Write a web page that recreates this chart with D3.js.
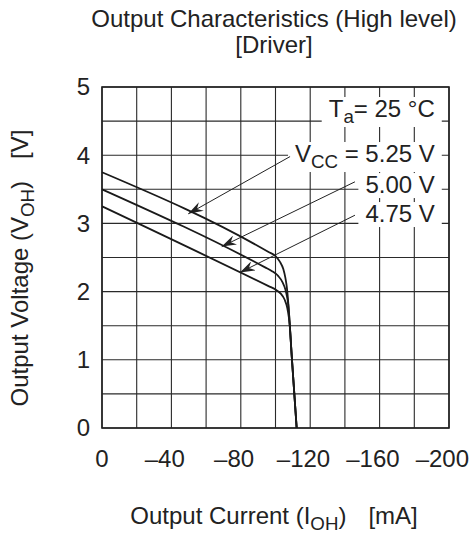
<!DOCTYPE html>
<html>
<head>
<meta charset="utf-8">
<script src="https://cdn.jsdelivr.net/npm/d3@7"></script>
<style>
  html, body { margin: 0; padding: 0; background: #fff; }
  svg { display: block; font-family: "Liberation Sans", Arial, sans-serif; }
</style>
</head>
<body>
<div id="chart"></div>
<script>
// Output current in mA (negative = sourcing), output voltage in V
const xTicks = [0, -20, -40, -60, -80, -100, -120, -140, -160, -180, -200];
const xLabels = [0, -40, -80, -120, -160, -200];
const yTicks = [0, 0.5, 1, 1.5, 2, 2.5, 3, 3.5, 4, 4.5, 5];
const yLabels = [0, 1, 2, 3, 4, 5];

const vcc525 = [[0, 3.75], [-96, 2.58], [-100, 2.52], [-102.5, 2.44], [-104.5, 2.33], [-105.7, 2.2], [-106.4, 2.09], [-106.8, 2.0], [-109.5, 1.0], [-112.2, 0]];
const vcc500 = [[0, 3.5], [-94, 2.355], [-98, 2.3], [-101.5, 2.23], [-104, 2.14], [-105.7, 2.03], [-106.6, 1.93], [-107.3, 1.82], [-109.5, 1.0], [-112.2, 0]];
const vcc475 = [[0, 3.25], [-96, 2.08], [-100, 2.03], [-103, 1.97], [-105.3, 1.88], [-106.8, 1.76], [-107.7, 1.62], [-108.2, 1.5], [-109.5, 1.0], [-112.2, 0]];

// leader arrows: [tailX, tailY, tipX, tipY] in data units
const leaders = [
  [-108.4, 3.98, -49.7, 3.14],
  [-145.8, 3.61, -69.0, 2.66],
  [-145.8, 3.12, -79.5, 2.28],
];

const W = 472, H = 536;
const margin = { top: 87, right: 23, bottom: 108, left: 102 };
const FS = 24;

const svg = d3.select("#chart").append("svg")
  .attr("width", W)
  .attr("height", H);

const x = d3.scaleLinear().domain([0, -200]).range([margin.left, W - margin.right]);
const y = d3.scaleLinear().domain([0, 5]).range([H - margin.bottom, margin.top]);

// grid
const grid = svg.append("g").attr("stroke", "#2a2a2a").attr("stroke-width", 1.1);
grid.selectAll("line.v").data(xTicks).join("line")
  .attr("x1", d => x(d)).attr("x2", d => x(d))
  .attr("y1", y(0)).attr("y2", y(5));
grid.selectAll("line.h").data(yTicks).join("line")
  .attr("x1", x(0)).attr("x2", x(-200))
  .attr("y1", d => y(d)).attr("y2", d => y(d));

svg.append("rect")
  .attr("x", x(0)).attr("y", y(5))
  .attr("width", x(-200) - x(0)).attr("height", y(0) - y(5))
  .attr("fill", "none").attr("stroke", "#222").attr("stroke-width", 1.6);

// annotation labels with white backing
const ann = svg.append("g").attr("font-size", FS).attr("fill", "#222").attr("text-anchor", "end");
function label(parts, xv, yv) {
  const t = ann.append("text").attr("x", x(xv)).attr("y", y(yv));
  parts.forEach(p => {
    const s = t.append("tspan").text(p.t);
    if (p.sub) s.attr("font-size", FS * 0.78).attr("dy", 6);
    if (p.up) s.attr("dy", -6);
  });
  return t;
}
const labs = [
  label([{ t: "T" }, { t: "a", sub: true }, { t: "= 25 °C", up: true }], -191.8, 4.56),
  label([{ t: "V" }, { t: "CC", sub: true }, { t: " = 5.25 V", up: true }], -191.8, 3.9),
  label([{ t: "5.00 V" }], -191.8, 3.445),
  label([{ t: "4.75 V" }], -191.8, 3.02),
];
labs.forEach(t => {
  const b = t.node().getBBox();
  ann.insert("rect", "text")
    .attr("x", b.x - 7).attr("y", b.y + 2)
    .attr("width", b.width + 14).attr("height", b.height - 2)
    .attr("fill", "#fff");
});

// arrowhead
svg.append("defs").append("marker")
  .attr("id", "arr")
  .attr("viewBox", "0 -5 15 10")
  .attr("refX", 15).attr("refY", 0)
  .attr("markerWidth", 15).attr("markerHeight", 10)
  .attr("markerUnits", "userSpaceOnUse")
  .attr("orient", "auto")
  .append("path")
  .attr("d", "M0,-5 L15,0 L0,5 L5,0 Z")
  .attr("fill", "#222");

svg.append("g").selectAll("line").data(leaders).join("line")
  .attr("x1", d => x(d[0])).attr("y1", d => y(d[1]))
  .attr("x2", d => x(d[2])).attr("y2", d => y(d[3]))
  .attr("stroke", "#222").attr("stroke-width", 1)
  .attr("marker-end", "url(#arr)");

// curves
const line = d3.line().x(d => x(d[0])).y(d => y(d[1])).curve(d3.curveMonotoneX);
svg.append("g").selectAll("path").data([vcc525, vcc500, vcc475]).join("path")
  .attr("d", line)
  .attr("fill", "none")
  .attr("stroke", "#1a1a1a")
  .attr("stroke-width", 1.8);

// tick labels
const fmt = d => d === 0 ? "0" : "\u2013" + Math.abs(d);
const tl = svg.append("g").attr("font-size", FS).attr("fill", "#222");
const dashW = (() => {
  const t = tl.append("text").text("\u2013");
  const w = t.node().getComputedTextLength();
  t.remove();
  return w;
})();
tl.selectAll("text.x").data(xLabels).join("text")
  .attr("x", d => x(d) - (d < 0 ? dashW / 2 : 0))
  .attr("y", 467)
  .attr("text-anchor", "middle")
  .text(fmt);
tl.selectAll("text.y").data(yLabels).join("text")
  .attr("x", 90)
  .attr("y", d => y(d))
  .attr("dy", "0.35em")
  .attr("text-anchor", "end")
  .text(d => d);

// titles
const title = svg.append("g").attr("font-size", FS).attr("fill", "#222").attr("text-anchor", "middle");
title.append("text").attr("x", 274).attr("y", 27).text("Output Characteristics (High level)");
title.append("text").attr("x", 274).attr("y", 53).text("[Driver]");

const xt = svg.append("text").attr("font-size", FS).attr("fill", "#222")
  .attr("x", 274).attr("y", 524).attr("text-anchor", "middle");
xt.append("tspan").text("Output Current (I");
xt.append("tspan").text("OH").attr("font-size", FS * 0.78).attr("dy", 6);
xt.append("tspan").text(")").attr("dy", -6);
xt.append("tspan").text("[mA]").attr("dx", 22);

const yt = svg.append("text").attr("font-size", FS).attr("fill", "#222")
  .attr("text-anchor", "middle")
  .attr("transform", "translate(28,268) rotate(-90)");
yt.append("tspan").text("Output Voltage (V");
yt.append("tspan").text("OH").attr("font-size", FS * 0.78).attr("dy", 6);
yt.append("tspan").text(")").attr("dy", -6);
yt.append("tspan").text("[V]").attr("dx", 22);
</script>
</body>
</html>
